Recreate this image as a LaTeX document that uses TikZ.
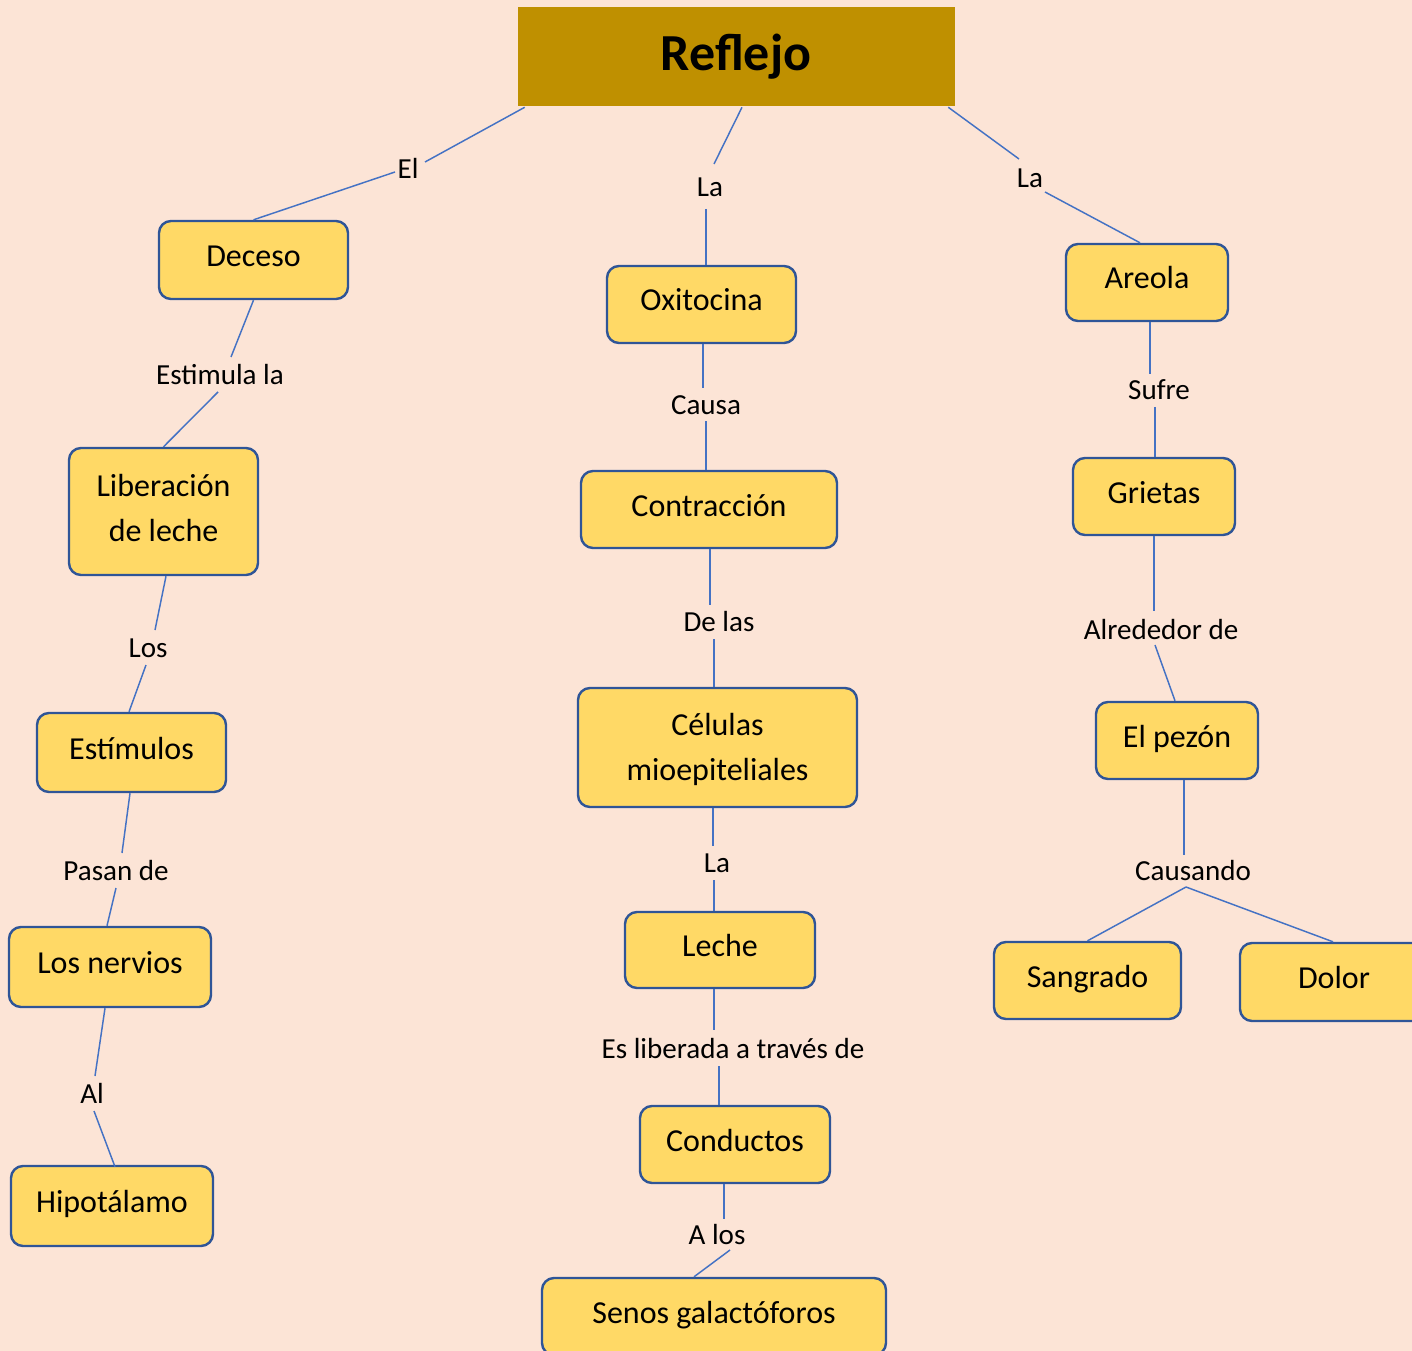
\documentclass[tikz,border=0pt]{standalone}
\usepackage{fontspec}
\setmainfont{Carlito}
\usetikzlibrary{calc}
\definecolor{bgc}{RGB}{252,228,214}
\definecolor{headc}{RGB}{191,144,0}
\definecolor{boxc}{RGB}{255,217,102}
\definecolor{bordc}{RGB}{47,85,151}
\definecolor{linec}{RGB}{68,114,196}
\tikzset{
  box/.style={rectangle, rounded corners=9pt, fill=boxc, draw=bordc, line width=1.8pt,
    align=center, inner sep=0pt, font=\fontsize{24}{33.75}\selectfont,
    text height=16pt, text depth=6.25pt},
  lbl/.style={inner sep=0pt, font=\fontsize{21.8}{26}\selectfont},
  conn/.style={draw=linec, line width=1.1pt},
}
\begin{document}
\begin{tikzpicture}[x=0.75pt,y=-0.75pt]
\path[use as bounding box, fill=bgc] (0,0) rectangle (1412,1351);
\clip (0,0) rectangle (1412,1351);
% header
\node[fill=headc, minimum width=437*.75pt, minimum height=99*.75pt, inner sep=0pt] (reflejo) at (736.5,56.5) {};
\node[font=\fontsize{39}{45}\bfseries\selectfont, inner sep=0pt] (reflejot) at (736,57) {Reflejo};
% left column
\node[box, minimum width=189*.75pt, minimum height=78*.75pt] (deceso) at (253.5,260) {Deceso};
\node[box, minimum width=189*.75pt, minimum height=127*.75pt, text height=45pt, text depth=0pt] (liberacion) at (163.5,511.5) {Liberación\\de leche};
\node[box, minimum width=189*.75pt, minimum height=79*.75pt] (estimulos) at (131.5,752.5) {Estímulos};
\node[box, minimum width=202*.75pt, minimum height=80*.75pt] (nervios) at (110,967) {Los nervios};
\node[box, minimum width=202*.75pt, minimum height=80*.75pt] (hipotalamo) at (112,1206) {Hipotálamo};
% middle column
\node[box, minimum width=189*.75pt, minimum height=77*.75pt] (oxitocina) at (701.5,304.5) {Oxitocina};
\node[box, minimum width=256*.75pt, minimum height=77*.75pt] (contraccion) at (709,509.5) {Contracción};
\node[box, minimum width=279*.75pt, minimum height=119*.75pt, text height=49.5pt, text depth=0pt] (celulas) at (717.5,747.5) {Células\\mioepiteliales};
\node[box, minimum width=190*.75pt, minimum height=76*.75pt] (leche) at (720,950) {Leche};
\node[box, minimum width=190*.75pt, minimum height=77*.75pt] (conductos) at (735,1144.5) {Conductos};
\node[box, minimum width=344*.75pt, minimum height=77*.75pt] (senos) at (714,1316.5) {Senos galactóforos};
% right column
\node[box, minimum width=162*.75pt, minimum height=77*.75pt] (areola) at (1147,282.5) {Areola};
\node[box, minimum width=162*.75pt, minimum height=77*.75pt] (grietas) at (1154,496.5) {Grietas};
\node[box, minimum width=162*.75pt, minimum height=77*.75pt] (pezon) at (1177,740.5) {El pezón};
\node[box, minimum width=187*.75pt, minimum height=77*.75pt] (sangrado) at (1087.5,980.5) {Sangrado};
\node[box, minimum width=188*.75pt, minimum height=78*.75pt] (dolor) at (1334,982) {Dolor};
% labels
\node[lbl] (lEl) at (408,168) {El};
\node[lbl] (lLa1) at (710,187) {La};
\node[lbl] (lLa2) at (1030,178) {La};
\node[lbl] (lEst) at (220,375) {Estimula la};
\node[lbl] (lLos) at (148,648) {Los};
\node[lbl] (lPasan) at (116,871) {Pasan de};
\node[lbl] (lAl) at (92,1093) {Al};
\node[lbl] (lCausa) at (706,405) {Causa};
\node[lbl] (lDe) at (719,622) {De las};
\node[lbl] (lLa3) at (717,863) {La};
\node[lbl] (lEs) at (733,1049) {Es liberada a través de};
\node[lbl] (lA) at (717,1235) {A los};
\node[lbl] (lSufre) at (1159,390) {Sufre};
\node[lbl] (lAlr) at (1161,630) {Alrededor de};
\node[lbl] (lCaus) at (1193,871) {Causando};
% connectors
\draw[conn] ($(reflejo.south west)+(7,1)$) -- ($(lEl)+(17,-6)$);
\draw[conn] ($(lEl)+(-13,4)$) -- (deceso.north);
\draw[conn] ($(reflejo.south)+(5.5,1)$) -- ($(lLa1)+(4,-23)$);
\draw[conn] ($(lLa1)+(-4,22)$) -- ($(oxitocina.north)+(4.5,0)$);
\draw[conn] ($(reflejo.south east)+(-7,1)$) -- ($(lLa2)+(-11,-19)$);
\draw[conn] ($(lLa2)+(15,14)$) -- ($(areola.north)+(-7,0)$);
\draw[conn] (deceso.south) -- ($(lEst)+(11,-18)$);
\draw[conn] ($(lEst)+(-2,17)$) -- (liberacion.north);
\draw[conn] ($(liberacion.south)+(2.5,0)$) -- ($(lLos)+(7,-18)$);
\draw[conn] ($(lLos)+(-2,17)$) -- ($(estimulos.north)+(-2.5,0)$);
\draw[conn] ($(estimulos.south)+(-1.5,0)$) -- ($(lPasan)+(6,-18)$);
\draw[conn] ($(lPasan)+(0,17)$) -- ($(nervios.north)+(-3,0)$);
\draw[conn] ($(nervios.south)+(-5,0)$) -- ($(lAl)+(3,-17)$);
\draw[conn] ($(lAl)+(2,18)$) -- ($(hipotalamo.north)+(3,2)$);
\draw[conn] ($(oxitocina.south)+(1.5,0)$) -- ($(lCausa)+(-3,-17)$);
\draw[conn] ($(lCausa)+(0,16)$) -- ($(contraccion.north)+(-3,0)$);
\draw[conn] ($(contraccion.south)+(1,0)$) -- ($(lDe)+(-9,-17)$);
\draw[conn] ($(lDe)+(-5,17)$) -- ($(celulas.north)+(-3.5,0)$);
\draw[conn] ($(celulas.south)+(-4.5,0)$) -- ($(lLa3)+(-4,-17)$);
\draw[conn] ($(lLa3)+(-3,17)$) -- ($(leche.north)+(-6,0)$);
\draw[conn] ($(leche.south)+(-6,0)$) -- ($(lEs)+(-19,-19)$);
\draw[conn] ($(lEs)+(-14,17)$) -- ($(conductos.north)+(-16,0)$);
\draw[conn] ($(conductos.south)+(-11,0)$) -- ($(lA)+(7,-16)$);
\draw[conn] ($(lA)+(13,15)$) -- ($(senos.north)+(-20,0)$);
\draw[conn] ($(areola.south)+(3,0)$) -- ($(lSufre)+(-9,-16)$);
\draw[conn] ($(lSufre)+(-4,17)$) -- ($(grietas.north)+(1,0)$);
\draw[conn] (grietas.south) -- ($(lAlr)+(-7,-19)$);
\draw[conn] ($(lAlr)+(-6,15)$) -- ($(pezon.north)+(-2,0)$);
\draw[conn] ($(pezon.south)+(7,0)$) -- ($(lCaus)+(-9,-16)$);
\draw[conn] ($(lCaus)+(-7,16)$) -- (sangrado.north);
\draw[conn] ($(lCaus)+(-7,16)$) -- ($(dolor.north)+(-1,0)$);
\end{tikzpicture}
\end{document}
